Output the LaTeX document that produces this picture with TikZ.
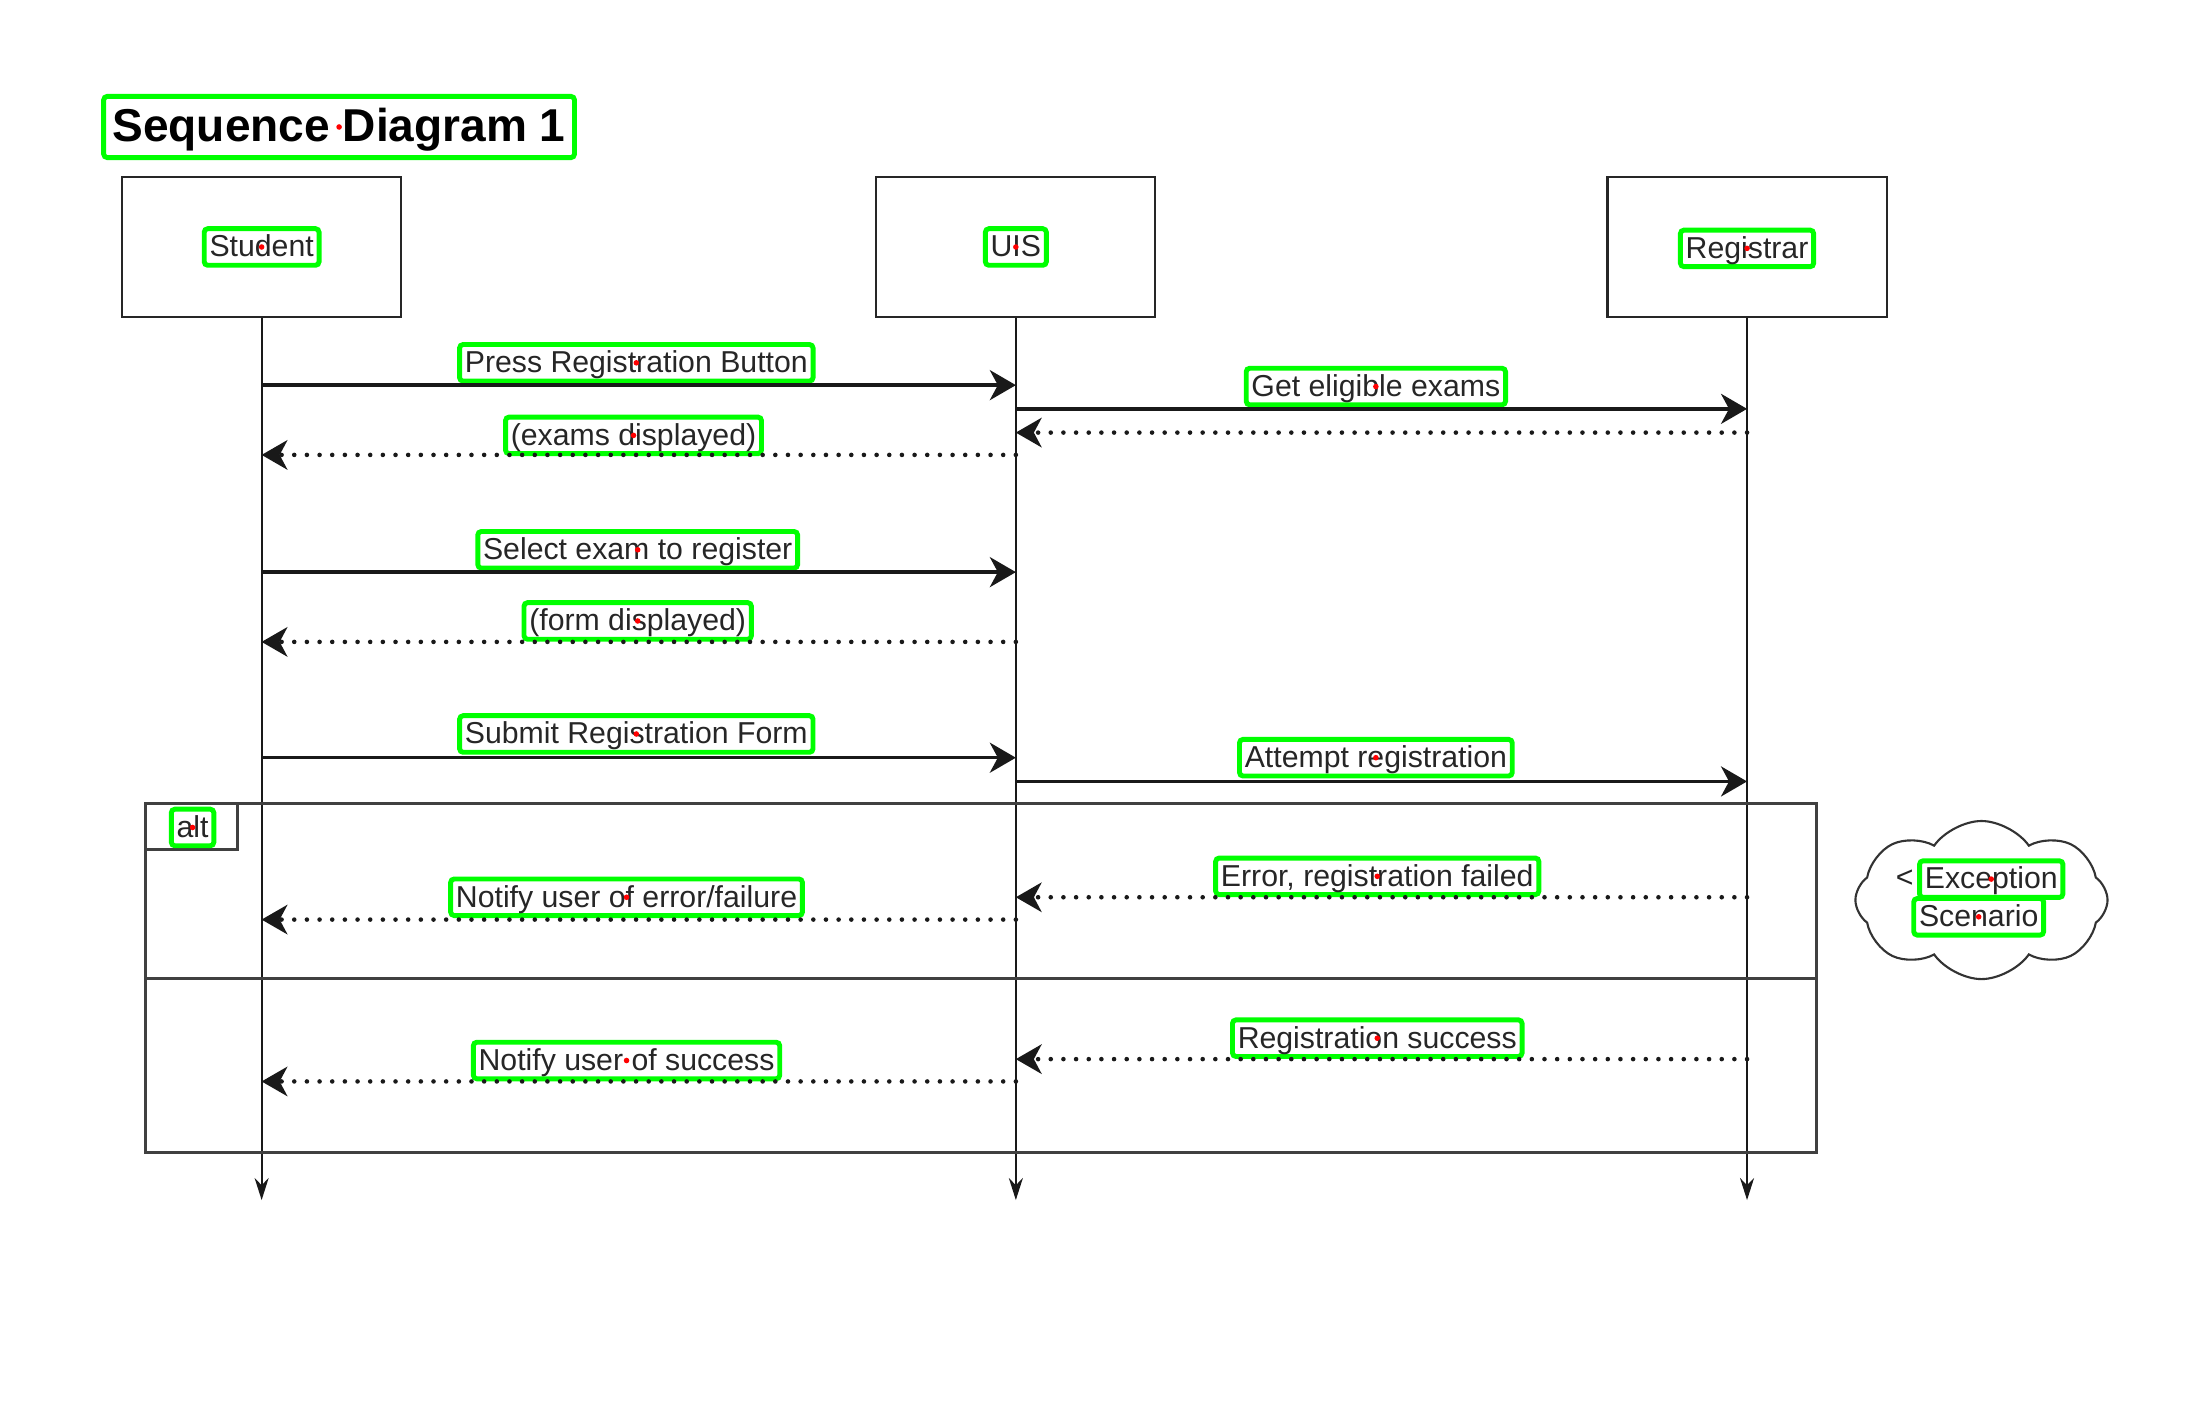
\documentclass[tikz,border=0pt]{standalone}
\usepackage{fontspec}
\setmainfont{Liberation Sans}
\usetikzlibrary{arrows.meta, shapes.symbols}
\definecolor{ocrgreen}{RGB}{0,255,0}

\begin{document}
\begin{tikzpicture}[x=0.013954cm, y=-0.013954cm,
    every node/.style={font=\fontsize{8.6}{10}\selectfont, text=black!85, inner sep=0pt},
    actor/.style={draw=black!85, line width=0.6pt, minimum width=2.79cm, minimum height=1.395cm},
    life/.style={draw=black!90, line width=0.5pt, -{Stealth[length=0.22cm, width=0.14cm]}},
    call/.style={draw=black!90, line width=1pt, -{Stealth[length=0.26cm, width=0.3cm, inset=0.08cm]}},
    reply/.style={draw=black!90, line width=1.3pt, line cap=round, dash pattern=on 0pt off 3.6pt,
      -{Stealth[length=0.26cm, width=0.3cm, inset=0.08cm, line cap=butt, line width=0pt, sep=0pt]}},
    frame/.style={draw=black!75, line width=0.8pt},
    ocr/.style={draw=ocrgreen, line width=1.4pt, rounded corners=1pt, inner xsep=1.5pt, inner ysep=1pt,
      text height=7pt, text depth=1.4pt},
    dot/.style={fill=red, draw=none}]
      \useasboundingbox (0,0) rectangle (1568,1018);
      \node [ocr, font=\fontsize{13.1}{15}\selectfont\bfseries, text=black, inner xsep=2.5pt, inner ysep=2.5pt,
        text height=10.2pt, text depth=2.2pt] (title) at (243,91) {Sequence Diagram 1};
      % lifeline heads
      \node [actor] (student) at (187.5,177) {};
      \node [actor] (uis) at (728,177) {};
      \node [actor] (registrar) at (1252,177) {};
      \node [ocr] (studentT) at (187.5,177) {Student};
      \node [ocr] (uisT) at (728,177) {UIS};
      \node [ocr] (registrarT) at (1252,178) {Registrar};
      \coordinate (sEnd) at (187.5,860);
      \coordinate (uEnd) at (728,860);
      \coordinate (rEnd) at (1252,860);
      \draw [life] (student) to (sEnd);
      \draw [life] (uis) to (uEnd);
      \draw [life] (registrar) to (rEnd);
      % alt fragment
      \draw [frame] (104,576) rectangle (1302,826);
      \draw [frame] (104,701) -- (1302,701);
      \draw [frame] (104,609) -- (170,609) -- (170,576);
      \node [ocr] (alt) at (138,593) {alt};
      % points on lifelines
      \foreach \y/\n in {276/1, 293/2, 310/3, 326/4, 410/5, 460/6, 543/7, 560/8, 643/9, 659/10, 759/11, 775/12} {
        \coordinate (s\n) at (187.5,\y);
        \coordinate (u\n) at (728,\y);
        \coordinate (r\n) at (1252,\y);
      }
      % messages
      \node [ocr] (m1) at (456,260) {Press Registration Button};
      \draw [call] (s1) to (u1);
      \node [ocr] (m2) at (986,277) {Get eligible exams};
      \draw [call] (u2) to (r2);
      \draw [reply] (r3) to (u3);
      \node [ocr] (m4) at (454,312) {(exams displayed)};
      \draw [reply] (u4) to (s4);
      \node [ocr] (m5) at (457,394) {Select exam to register};
      \draw [call] (s5) to (u5);
      \node [ocr] (m6) at (457,445) {(form displayed)};
      \draw [reply] (u6) to (s6);
      \node [ocr] (m7) at (456,526) {Submit Registration Form};
      \draw [call] (s7) to (u7);
      \node [ocr] (m8) at (986,543) {Attempt registration};
      \draw [call] (u8) to (r8);
      \node [ocr] (m9) at (987,628) {Error, registration failed};
      \draw [reply] (r9) to (u9);
      \node [ocr] (m10) at (449,643) {Notify user of error/failure};
      \draw [reply] (u10) to (s10);
      \node [ocr] (m11) at (987,744) {Registration success};
      \draw [reply] (r11) to (u11);
      \node [ocr] (m12) at (449,760) {Notify user of success};
      \draw [reply] (u12) to (s12);
      % note
      \node [cloud, cloud puffs=8, cloud puff arc=110, aspect=1.6, draw=black!80, line width=0.6pt,
        minimum width=2.52cm, minimum height=1.58cm] (exc) at (1420,645) {};
      \node (lt) at (1365,630) {\textless};
      \node [ocr] (exc1) at (1427,630) {Exception};
      \node [ocr] (exc2) at (1418,657) {Scenario};
      % centre marks
      \foreach \t in {title, studentT, uisT, registrarT, alt, m1, m2, m4, m5, m6, m7, m8, m9, m10, m11, m12, exc1, exc2}
        \fill [dot] (\t.center) circle (2);
    \end{tikzpicture}
\end{document}
